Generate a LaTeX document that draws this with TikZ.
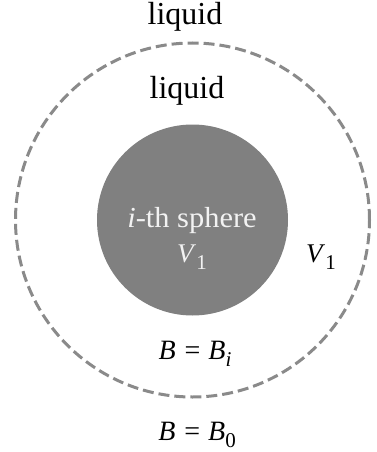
\documentclass[tikz,border=0pt]{standalone}
\usepackage{fontspec}
\setmainfont{Liberation Serif}
\definecolor{spheregray}{HTML}{808080}
\definecolor{dashgray}{HTML}{8A8A8A}
\definecolor{lighttext}{HTML}{F2F2F2}
\newcommand{\sub}[1]{\raisebox{-7pt}{\fontsize{21}{21}\selectfont #1}}
\newcommand{\eqsp}{\hspace{9pt}=\hspace{8pt}}
\tikzset{
  lbl/.style={anchor=base, inner sep=0pt, font=\fontsize{27}{31}\selectfont, text=black},
  mathlbl/.style={lbl, font=\fontsize{28}{32}\selectfont},
  biglbl/.style={lbl, font=\fontsize{32}{36}\selectfont},
  shell/.style={circle, draw=dashgray, line width=3pt, dash pattern=on 11pt off 5pt, inner sep=0pt, minimum size=354pt},
  ball/.style={circle, fill=spheregray, inner sep=0pt, minimum size=191pt},
}
\begin{document}
\begin{tikzpicture}[x=1pt,y=-1pt]
\useasboundingbox (0,0) rectangle (376,452);
\node[shell] (outer) at (192.5,220) {};
\node[ball] (inner) at (192.5,220) {};
\node[biglbl] (liqout) at (185,25) {liquid};
\node[biglbl] (liqin) at (187,98) {liquid};
\node[lbl, text=lighttext, font=\fontsize{29}{33}\selectfont] (sname) at (192,227) {\scalebox{1.05}[1]{\textit{i}-th sphere}};
\node[lbl, text=lighttext] (svol) at (192,262) {\textit{V}\sub{1}};
\node[lbl] (shvol) at (321,262) {\textit{V}\sub{1}};
\node[mathlbl] (bi) at (195,359) {\textit{B}\eqsp\textit{B}\sub{\textit{i}}};
\node[mathlbl] (b0) at (197,440) {\textit{B}\eqsp\textit{B}\sub{0}};
\end{tikzpicture}
\end{document}
